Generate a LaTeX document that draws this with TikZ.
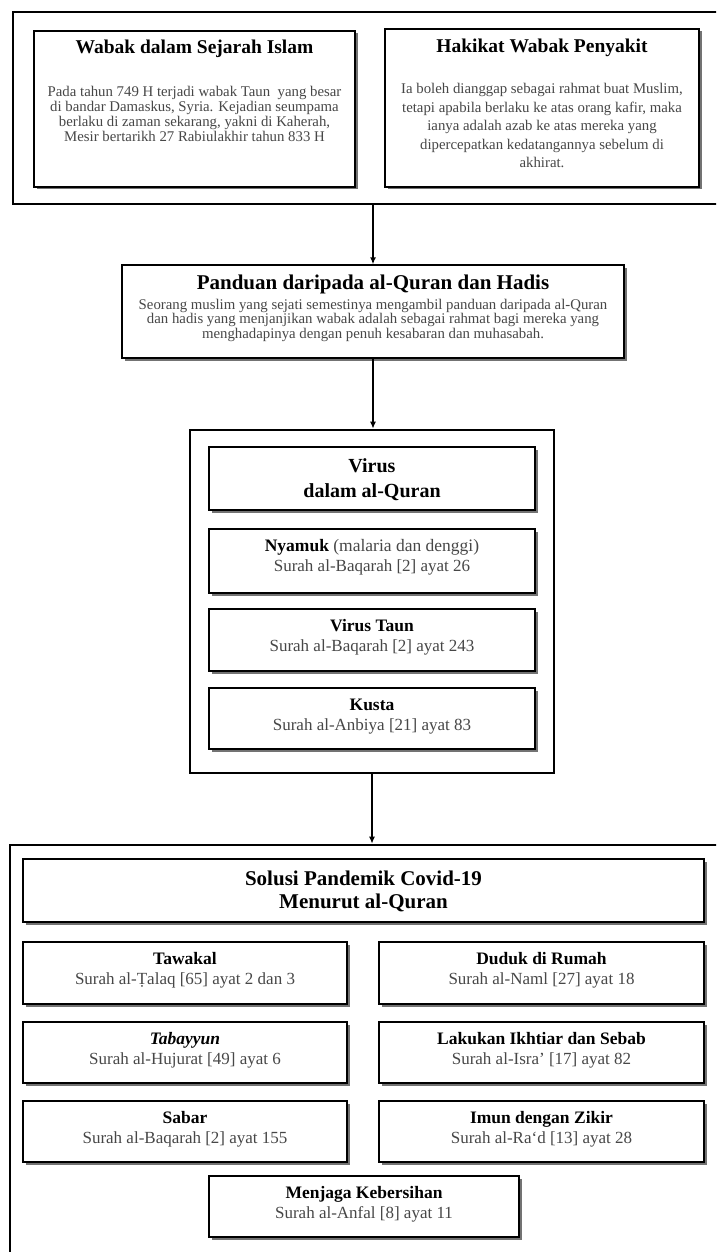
\documentclass[tikz,border=0pt]{standalone}
\usepackage{fontspec}
\setmainfont{Liberation Serif}
\usetikzlibrary{shadows,arrows.meta}
\definecolor{txtgray}{HTML}{474747}
\newcommand{\mkcard}[7]{%
  \node[card, minimum width=#4pt, minimum height=#5pt] (#1) at (#2,#3+#5/2) {};
  \node[itemttl] (#1-t) at (#2,#3+22.5) {#6};
  \node[itemsub] (#1-s) at (#2,#3+42.5) {#7};
}
\begin{document}
\begin{tikzpicture}[x=1pt,y=-1pt,
  outerframe/.style={draw, line width=2.6pt, inner sep=0pt},
  card/.style={draw, line width=1.3pt, fill=white, inner sep=0pt,
    drop shadow={shadow xshift=2.5pt, shadow yshift=-2.5pt, fill=black!55, opacity=1}},
  ttlA/.style={font=\fontsize{19.5}{22}\selectfont\bfseries, text=black, inner sep=0pt, anchor=base},
  ttlB/.style={font=\fontsize{21}{25}\selectfont\bfseries, text=black, inner sep=0pt, anchor=base, align=center},
  bodyA/.style={font=\fontsize{14.8}{15}\selectfont, text=txtgray, inner sep=0pt, anchor=base, align=center},
  bodyB/.style={font=\fontsize{14.8}{18.5}\selectfont, text=txtgray, inner sep=0pt, anchor=base, align=center},
  bodyC/.style={font=\fontsize{14.8}{14.5}\selectfont, text=txtgray, inner sep=0pt, anchor=base, align=center},
  itemttl/.style={font=\fontsize{17.5}{20}\selectfont\bfseries, text=black, inner sep=0pt, anchor=base},
  itemsub/.style={font=\fontsize{17}{20}\selectfont, text=txtgray, inner sep=0pt, anchor=base},
  arr/.style={line width=1.4pt, -{Latex[length=7pt,width=6pt]}}
]
\clip (0,0) rectangle (716,1252);
\fill[white] (0,0) rectangle (716,1252);

% ---------- top frame ----------
\node[outerframe, minimum width=717pt, minimum height=192pt] (top) at (371.5,108) {};
\node[card, minimum width=321pt, minimum height=156pt] (wabak) at (194.5,109) {};
\node[ttlA] (wabak-t) at (194.5,54) {Wabak dalam Sejarah Islam};
\node[bodyA] (wabak-b) at (194.5,142) {Pada tahun 749 H terjadi wabak Taun\ \ yang besar\\di bandar Damaskus, Syria. Kejadian seumpama\\berlaku di zaman sekarang, yakni di Kaherah,\\Mesir bertarikh 27 Rabiulakhir tahun 833 H};
\node[card, minimum width=314pt, minimum height=158pt] (hakikat) at (542,108) {};
\node[ttlA] (hakikat-t) at (542,53) {Hakikat Wabak Penyakit};
\node[bodyB] (hakikat-b) at (542,168) {Ia boleh dianggap sebagai rahmat buat Muslim,\\tetapi apabila berlaku ke atas orang kafir, maka\\ianya adalah azab ke atas mereka yang\\dipercepatkan kedatangannya sebelum di\\akhirat.};

% ---------- panduan ----------
\node[card, minimum width=502pt, minimum height=93pt] (panduan) at (373,311.5) {};
\node[ttlB] (panduan-t) at (373,289) {Panduan daripada al-Quran dan Hadis};
\node[bodyC] (panduan-b) at (373,338) {Seorang muslim yang sejati semestinya mengambil panduan daripada al-Quran\\dan hadis yang menjanjikan wabak adalah sebagai rahmat bagi mereka yang\\menghadapinya dengan penuh kesabaran dan muhasabah.};

% ---------- virus ----------
\node[outerframe, minimum width=364pt, minimum height=343pt] (virus) at (372,601.5) {};
\node[card, minimum width=326pt, minimum height=63pt] (vtitle) at (372,478.5) {};
\node[ttlB, font=\fontsize{20}{25}\selectfont\bfseries] (vtitle-t) at (372,497) {Virus\\dalam al-Quran};
\mkcard{nyamuk}{372}{529}{326}{64}{Nyamuk {\mdseries\color{txtgray}(malaria dan denggi)}}{Surah al-Baqarah [2] ayat 26}
\mkcard{taun}{372}{609}{326}{62}{Virus Taun}{Surah al-Baqarah [2] ayat 243}
\mkcard{kusta}{372}{688}{326}{61}{Kusta}{Surah al-Anbiya [21] ayat 83}

% ---------- solusi ----------
\node[outerframe, minimum width=720pt, minimum height=425pt] (bottom) at (370,1057.5) {};
\node[card, minimum width=681pt, minimum height=63pt] (solusi) at (363.5,890.5) {};
\node[ttlB, font=\fontsize{21}{23}\selectfont\bfseries] (solusi-t) at (363.5,908) {Solusi Pandemik Covid-19\\Menurut al-Quran};
\mkcard{tawakal}{185}{942}{324}{62}{Tawakal}{Surah al-Ṭalaq [65] ayat 2 dan 3}
\mkcard{duduk}{541.5}{942}{325}{62}{Duduk di Rumah}{Surah al-Naml [27] ayat 18}
\mkcard{tabayyun}{185}{1022}{324}{61}{\itshape Tabayyun}{Surah al-Hujurat [49] ayat 6}
\mkcard{ikhtiar}{541.5}{1022}{325}{61}{Lakukan Ikhtiar dan Sebab}{Surah al-Isra’ [17] ayat 82}
\mkcard{sabar}{185}{1101}{324}{61}{Sabar}{Surah al-Baqarah [2] ayat 155}
\mkcard{imun}{541.5}{1101}{325}{61}{Imun dengan Zikir}{Surah al-Ra‘d [13] ayat 28}
\mkcard{menjaga}{364}{1176}{310}{61}{Menjaga Kebersihan}{Surah al-Anfal [8] ayat 11}

% ---------- arrows ----------
\draw[arr] (panduan.north |- top.south) -- (panduan.north);
\draw[arr] (panduan.south) -- (panduan.south |- virus.north);
\draw[arr] (virus.south) -- (virus.south |- bottom.north);
\end{tikzpicture}
\end{document}
